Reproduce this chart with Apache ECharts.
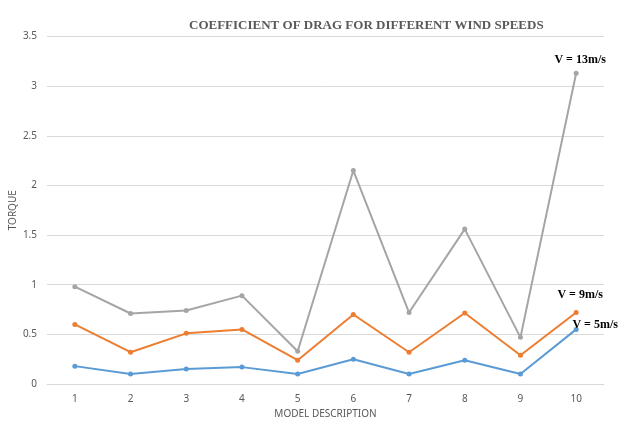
<!DOCTYPE html>
<html>
<head>
<meta charset="utf-8">
<script src="https://cdn.jsdelivr.net/npm/echarts@6/dist/echarts.min.js"></script>
<style>
  html, body { margin: 0; padding: 0; background: #fff; }
  #chart { width: 621px; height: 446px; }
</style>
</head>
<body>
<div id="chart"></div>
<script>
// 数据
const models = ['1', '2', '3', '4', '5', '6', '7', '8', '9', '10'];
const v5 = [0.18, 0.10, 0.15, 0.17, 0.10, 0.25, 0.10, 0.24, 0.10, 0.55];
const v9 = [0.60, 0.32, 0.51, 0.55, 0.24, 0.70, 0.32, 0.715, 0.29, 0.72];
const v13 = [0.98, 0.71, 0.74, 0.89, 0.33, 2.15, 0.72, 1.56, 0.47, 3.13];
const seriesNames = ['V = 5m/s', 'V = 9m/s', 'V = 13m/s'];

const labelFont = { fontFamily: 'Liberation Serif', fontWeight: 'bold', fontSize: 12, color: '#000' };

// 只在最后一个点显示系列名
function withEndLabel(values, name, labelOpt) {
  return values.map((v, i) => i === values.length - 1
    ? { value: v, label: Object.assign({ show: true, formatter: name }, labelFont, labelOpt) }
    : v);
}

const chart = echarts.init(document.getElementById('chart'));

chart.setOption({
  animation: false,
  title: {
    text: 'COEFFICIENT OF DRAG FOR DIFFERENT WIND SPEEDS',
    left: 184,
    top: 14,
    textStyle: { fontFamily: 'Liberation Serif', fontWeight: 'bold', fontSize: 13, color: '#595959' }
  },
  grid: { left: 47, right: 17, top: 36.5, bottom: 62, outerBoundsMode: 'none' },
  xAxis: {
    type: 'category',
    data: models,
    name: 'MODEL DESCRIPTION',
    nameLocation: 'middle',
    nameGap: 25,
    nameMoveOverlap: false,
    nameTextStyle: { fontFamily: 'Noto Sans', fontSize: 10, color: '#595959' },
    axisLine: { lineStyle: { color: '#D9D9D9' } },
    axisTick: { show: false },
    axisLabel: { fontFamily: 'Noto Sans', fontSize: 10, color: '#595959', margin: 10 }
  },
  yAxis: {
    type: 'value',
    min: 0,
    max: 3.5,
    interval: 0.5,
    name: 'TORQUE',
    nameLocation: 'middle',
    nameGap: 29,
    nameMoveOverlap: false,
    nameTextStyle: { fontFamily: 'Noto Sans', fontSize: 10, color: '#595959' },
    axisLine: { show: false },
    axisTick: { show: false },
    axisLabel: { fontFamily: 'Noto Sans', fontSize: 10, color: '#595959', margin: 10 },
    splitLine: { lineStyle: { color: '#D9D9D9' } }
  },
  series: [
    {
      name: seriesNames[0],
      type: 'line',
      data: withEndLabel(v5, seriesNames[0], { position: 'top', offset: [19, 9] }),
      symbol: 'circle',
      symbolSize: 5,
      itemStyle: { color: '#5B9BD5' },
      lineStyle: { width: 2, color: '#5B9BD5' },
      z: 3
    },
    {
      name: seriesNames[1],
      type: 'line',
      data: withEndLabel(v9, seriesNames[1], { position: 'top', offset: [4, -4] }),
      symbol: 'circle',
      symbolSize: 5,
      itemStyle: { color: '#ED7D31' },
      lineStyle: { width: 2, color: '#ED7D31' },
      z: 2
    },
    {
      name: seriesNames[2],
      type: 'line',
      data: withEndLabel(v13, seriesNames[2], { position: 'top', offset: [4, 0] }),
      symbol: 'circle',
      symbolSize: 5,
      itemStyle: { color: '#A5A5A5' },
      lineStyle: { width: 2, color: '#A5A5A5' },
      z: 1
    }
  ]
});
</script>
</body>
</html>
